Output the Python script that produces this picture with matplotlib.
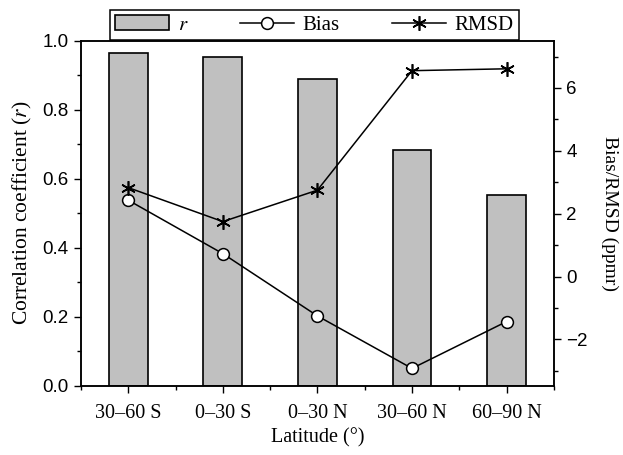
import matplotlib
matplotlib.use("Agg")
import matplotlib.pyplot as plt
from matplotlib.ticker import MultipleLocator, FixedLocator
import numpy as np

categories = ["30\u201360 S", "0\u201330 S", "0\u201330 N", "30\u201360 N", "60\u201390 N"]
r_values = [0.966, 0.954, 0.888, 0.684, 0.553]
bias_values = [2.43, 0.73, -1.25, -2.92, -1.43]
rmsd_values = [2.83, 1.75, 2.75, 6.55, 6.61]

plt.rcParams["mathtext.fontset"] = "stix"

serif = ["Liberation Serif", "DejaVu Serif"]
sans = ["Liberation Sans", "DejaVu Sans"]

fig = plt.figure(figsize=(6.23, 4.55), dpi=100)
ax = fig.add_axes([0.130, 0.1523, 0.759, 0.758])
x = np.arange(len(categories))

bars = ax.bar(x, r_values, width=0.41, color="#c0c0c0", edgecolor="black",
              linewidth=1.2, label=r"$r$", zorder=2)
ax.set_xlim(-0.5, 4.5)
ax.set_ylim(0, 1.0)
ax.yaxis.set_major_locator(MultipleLocator(0.2))
ax.yaxis.set_minor_locator(MultipleLocator(0.1))
ax.set_xticks(x)
ax.set_xticklabels(categories, fontfamily=serif, fontsize=14.5)
ax.xaxis.set_minor_locator(FixedLocator(np.arange(-0.5, 4.6, 1.0)))
for lab in ax.get_yticklabels():
    lab.set_fontfamily(sans)
    lab.set_fontsize(13.5)
ax.tick_params(axis="both", which="major", direction="out", length=5, width=1, pad=4)
ax.tick_params(axis="both", which="minor", direction="out", length=3, width=1)
ax.tick_params(axis="x", which="major", pad=8)
ax.set_xlabel("Latitude (\u00b0)", fontfamily=serif, fontsize=14.5, labelpad=4)
ax.set_ylabel("Correlation coefficient ($r$)", fontfamily=serif, fontsize=15.5, labelpad=6)

ax2 = ax.twinx()
ax2.set_ylim(-3.47, 7.5)
ax2.yaxis.set_major_locator(FixedLocator([-2, 0, 2, 4, 6]))
ax2.yaxis.set_minor_locator(FixedLocator([-3, -1, 1, 3, 5, 7]))
ax2.tick_params(axis="y", which="major", direction="out", length=5, width=1, pad=4)
ax2.tick_params(axis="y", which="minor", direction="out", length=3, width=1)
ax2.set_yticklabels(["\u22122", "0", "2", "4", "6"])
for lab in ax2.get_yticklabels():
    lab.set_fontfamily(sans)
    lab.set_fontsize(13.5)
l1, = ax2.plot(x, bias_values, color="black", linewidth=1.1, marker="o",
               markersize=8.5, markerfacecolor="white", markeredgecolor="black",
               markeredgewidth=1.1, label="Bias", zorder=3)
l2, = ax2.plot(x, rmsd_values, color="black", linewidth=1.1, marker=(6, 2, 0),
               markersize=10.5, markeredgewidth=1.2, label="RMSD", zorder=3)
ax2.set_ylabel("Bias/RMSD (ppmr)", fontfamily=serif, fontsize=14, rotation=270,
               labelpad=22)

for a in (ax, ax2):
    for s in a.spines.values():
        s.set_linewidth(1.1)

leg = fig.legend(handles=[bars, l1, l2], labels=[r"$r$", "Bias", "RMSD"],
                 loc="lower left", bbox_to_anchor=(0.1766, 0.912, 0.656, 0.086),
                 mode="expand", ncol=3, frameon=True, fancybox=False,
                 edgecolor="black", framealpha=1, borderaxespad=0,
                 handlelength=2.6, handletextpad=0.4, borderpad=0.25,
                 prop={"family": serif, "size": 15})
leg.get_frame().set_linewidth(1.1)

fig.savefig("out.png", dpi=100)
